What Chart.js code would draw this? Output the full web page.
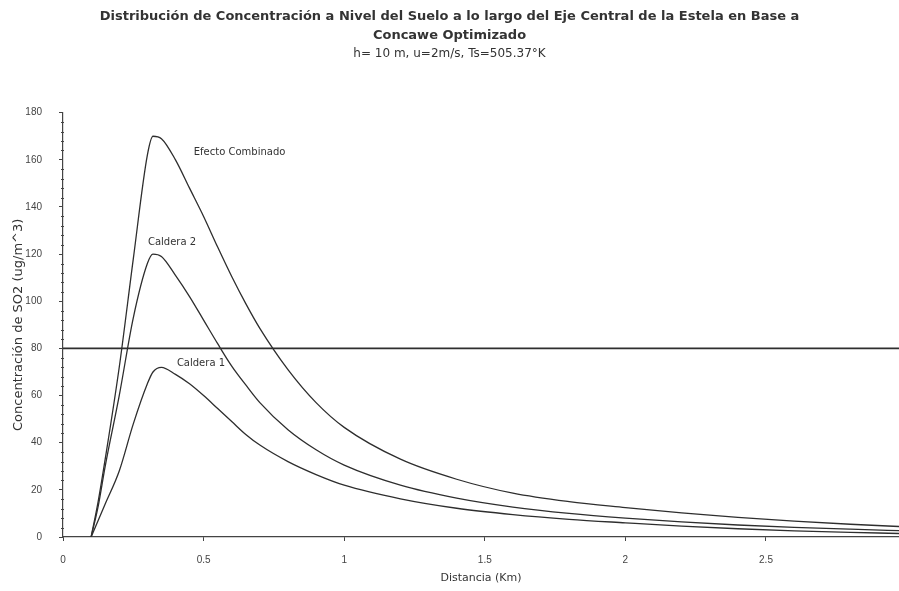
<!DOCTYPE html>
<html>
<head>
<meta charset="utf-8">
<script src="https://cdn.jsdelivr.net/npm/chart.js@4/dist/chart.umd.min.js"></script>
<style>
  body { margin: 0; background: #fff; }
  #wrap { width: 899px; height: 591px; }
</style>
</head>
<body>
<div id="wrap"><canvas id="chart-1"></canvas></div>
<script>
// distancia (Km)
const distancia = [0.1, 0.125, 0.15, 0.2, 0.25, 0.3, 0.32, 0.35, 0.4, 0.45, 0.5, 0.55, 0.6, 0.65, 0.7, 0.8, 0.9, 1.0, 1.2, 1.4, 1.6, 1.8, 2.0, 2.2, 2.4, 2.6, 2.8, 3.0];
// concentracion SO2 (ug/m^3)
const efectoCombinado = [0, 15, 33, 72, 118, 162, 170, 169, 160, 148, 136, 123, 110.5, 99, 88.5, 71, 57, 46.5, 33, 24.5, 18.6, 15, 12.5, 10.2, 8.3, 6.7, 5.4, 4.3];
const caldera2 = [0, 13, 30, 60, 93, 116, 120, 119, 111, 102, 92, 82, 72.5, 64.5, 57, 45.5, 37, 30.5, 22, 16.5, 12.7, 10, 8, 6.4, 5.1, 4.1, 3.3, 2.6];
const caldera1 = [0, 7, 14, 28, 48, 65, 70, 72, 69, 65, 60, 54.5, 49, 43.5, 39, 32, 26.5, 22, 16.2, 12.2, 9.5, 7.5, 6, 4.6, 3.5, 2.6, 2, 1.4];
// limite
const limiteX = [0, 3];
const limiteY = [80, 80];

const yTicks = [0, 20, 40, 60, 80, 100, 120, 140, 160, 180];

const fuente = '"DejaVu Sans", Verdana, sans-serif';
const fuenteEjes = '"Liberation Sans", Arial, sans-serif';

function puntos(xs, ys){
  return xs.map((x, i) => ({x: x, y: ys[i]}));
}

function serie(label, xs, ys, width){
  return {
    label: label,
    data: puntos(xs, ys),
    borderColor: '#2e2e2e',
    borderWidth: width,
    pointRadius: 0,
    fill: false,
    cubicInterpolationMode: 'monotone',
    showLine: true
  };
}

// etiquetas sobre las curvas
const rotulos = [
  {text: 'Efecto Combinado', x: 0.465, y: 163},
  {text: 'Caldera 2', x: 0.302, y: 125},
  {text: 'Caldera 1', x: 0.405, y: 73.5}
];

const rotulosPlugin = {
  id: 'rotulos',
  afterDatasetsDraw(chart){
    const ctx = chart.ctx;
    const sx = chart.scales.x, sy = chart.scales.y;
    ctx.save();
    ctx.font = '10px ' + fuente;
    ctx.fillStyle = '#333';
    ctx.textBaseline = 'middle';
    rotulos.forEach(r => {
      ctx.fillText(r.text, sx.getPixelForValue(r.x), sy.getPixelForValue(r.y));
    });
    // marcas menores del eje y
    ctx.strokeStyle = '#444';
    ctx.lineWidth = 1;
    for (let v = 4; v < 180; v += 4){
      if (v % 20 === 0) continue;
      const py = Math.round(sy.getPixelForValue(v)) + 0.5;
      ctx.beginPath();
      ctx.moveTo(sx.left - 2, py);
      ctx.lineTo(sx.left + 1, py);
      ctx.stroke();
    }
    ctx.restore();
  }
};

new Chart(document.querySelector('#chart-1'), {
  type: 'scatter',
  data: {
    datasets: [
      serie('Efecto Combinado', distancia, efectoCombinado, 1.3),
      serie('Caldera 2', distancia, caldera2, 1.3),
      serie('Caldera 1', distancia, caldera1, 1.3),
      serie('Limite', limiteX, limiteY, 1.6)
    ]
  },
  options: {
    responsive: true,
    maintainAspectRatio: false,
    animation: false,
    layout: { padding: {left: 0, right: 0, top: 0, bottom: 0} },
    plugins: {
      legend: { display: false },
      tooltip: { enabled: false },
      title: {
        display: true,
        text: ['Distribución de Concentración a Nivel del Suelo a lo largo del Eje Central de la Estela en Base a', 'Concawe Optimizado'],
        color: '#333',
        font: { family: fuente, size: 13, weight: 'bold', lineHeight: 1.45 },
        padding: { top: 7, bottom: 0 }
      },
      subtitle: {
        display: true,
        text: 'h= 10 m, u=2m/s, Ts=505.37°K',
        color: '#333',
        font: { family: fuente, size: 12, lineHeight: 1.5 },
        padding: { top: 0, bottom: 50 }
      }
    },
    scales: {
      x: {
        type: 'linear',
        min: 0,
        max: 2.973,
        border: { color: '#444', width: 1.2 },
        grid: { drawOnChartArea: false, tickLength: 4, color: '#444' },
        ticks: {
          stepSize: 0.5,
          includeBounds: false,
          color: '#444',
          padding: 13,
          font: { family: fuenteEjes, size: 10 },
          callback: v => String(v)
        },
        title: {
          display: true,
          text: 'Distancia (Km)',
          color: '#333',
          font: { family: fuente, size: 11 },
          padding: { top: 2, bottom: 6 }
        },
        afterFit(scale){ scale.height = 54; }
      },
      y: {
        min: 0,
        max: 180,
        border: { color: '#444', width: 1.2 },
        grid: { drawOnChartArea: false, tickLength: 4, color: '#444' },
        afterBuildTicks(scale){ scale.ticks = yTicks.map(v => ({value: v})); },
        ticks: {
          color: '#444',
          padding: 17,
          font: { family: fuenteEjes, size: 10 }
        },
        title: {
          display: true,
          text: 'Concentración de SO2 (ug/m^3)',
          color: '#333',
          font: { family: fuente, size: 13 },
          padding: { top: 11, bottom: 0 }
        },
        afterFit(scale){ scale.width = 63; }
      }
    }
  },
  plugins: [rotulosPlugin]
});
</script>
</body>
</html>
